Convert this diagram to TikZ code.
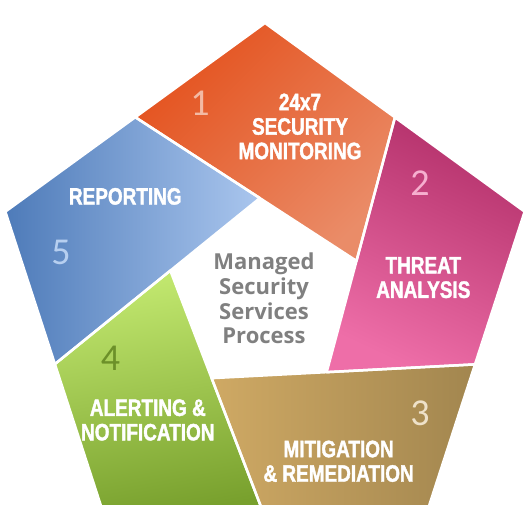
\documentclass[tikz,border=0pt]{standalone}
\usepackage{fontspec}
\usepackage{tikz}
\usetikzlibrary{calc}
\newfontfamily\condfont{Liberation Sans}[FakeStretch=0.8,FakeBold=1.6]
\newfontfamily\numfont{Carlito}
\newfontfamily\hubfont{Open Sans}
\definecolor{orgA}{HTML}{E4521E}
\definecolor{orgB}{HTML}{EA8C68}
\definecolor{pnkA}{HTML}{B3306A}
\definecolor{pnkB}{HTML}{EE6EA8}
\definecolor{brnA}{HTML}{CFA964}
\definecolor{brnB}{HTML}{A2864F}
\definecolor{grnA}{HTML}{C3E970}
\definecolor{grnB}{HTML}{78A02D}
\definecolor{bluA}{HTML}{4E7BB9}
\definecolor{bluB}{HTML}{AAC6EE}
\definecolor{hubgray}{HTML}{808080}

\begin{document}
\begin{tikzpicture}[x=1pt,y=1pt,
    seg0/.style={top color=orgA,bottom color=orgB,shading angle=45},
    seg1/.style={top color=pnkA,bottom color=pnkB,shading angle=-25},
    seg2/.style={left color=brnA,right color=brnB},
    seg3/.style={top color=grnA,bottom color=grnB,shading angle=10},
    seg4/.style={left color=bluA,right color=bluB},
    seglabel/.style={text=white,align=center,inner sep=0pt,font=\condfont\bfseries\fontsize{23.7}{24.5}\selectfont},
    segnum/.style={inner sep=0pt,font=\numfont\fontsize{38}{38}\selectfont},
    hub/.style={text=hubgray,align=center,inner sep=0pt,font=\hubfont\bfseries\fontsize{22}{24.7}\selectfont}]
    \path[use as bounding box,clip] (0,0) rectangle (525,505);
    \coordinate (c) at (265,209);
    \foreach \k in {0,...,4}{
        \coordinate (v\k) at ($(c)+({90-72*\k}:273)$);
        \coordinate (i\k) at ($(c)+({93-72*\k}:98)$);
    }
    \foreach \k in {0,...,4}{
        \pgfmathtruncatemacro\kn{mod(\k+1,5)}
        \pgfmathtruncatemacro\knn{mod(\k+2,5)}
        \coordinate (b\k) at (intersection cs: first line={(i\knn)--(i\kn)}, second line={(v\k)--(v\kn)});
    }
    % pinwheel segments, then white gaps
    \foreach \k in {0,...,4}{
        \pgfmathtruncatemacro\kn{mod(\k+1,5)}
        \pgfmathtruncatemacro\kp{mod(\k+4,5)}
        \shade[seg\k] (v\k) -- (b\k) -- (i\kn) -- (b\kp) -- cycle;
    }
    \foreach \k in {0,...,4}{
        \pgfmathtruncatemacro\kn{mod(\k+1,5)}
        \pgfmathtruncatemacro\kp{mod(\k+4,5)}
        \draw[white,line width=2.5pt,line join=round] (v\k) -- (b\k) -- (i\kn) -- (b\kp) -- cycle;
    }

    \node[seglabel] (monitoring) at (300,378.5) {24x7\\SECURITY\\MONITORING};
    \node[seglabel] (threat) at (423.3,227.4) {THREAT\\ANALYSIS};
    \node[seglabel] (mitigation) at (338.6,43.7) {MITIGATION\\\& REMEDIATION};
    \node[seglabel] (alerting) at (147.8,85) {ALERTING \&\\NOTIFICATION};
    \node[seglabel] (reporting) at (125.3,308.6) {REPORTING};

    \node[segnum,text=orgB!60!white] (n1) at (200,402) {1};
    \node[segnum,text=pnkB!55!white] (n2) at (420,322) {2};
    \node[segnum,text=brnA!35!white] (n3) at (420,92) {3};
    \node[segnum,text=grnB!90!black] (n4) at (110.5,147) {4};
    \node[segnum,text=bluB!85!white] (n5) at (61,253) {5};

    \node[hub] (process) at (264,206.3) {Managed\\Security\\Services\\Process};
\end{tikzpicture}
\end{document}
